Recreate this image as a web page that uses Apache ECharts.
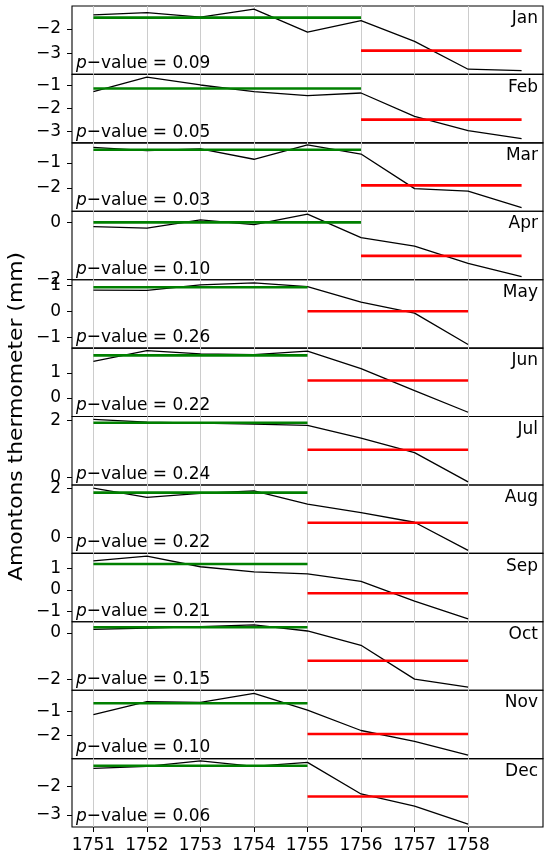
<!DOCTYPE html>
<html>
<head>
<meta charset="utf-8">
<script src="https://cdn.jsdelivr.net/npm/echarts@6/dist/echarts.min.js"></script>
<style>
  html, body { margin: 0; padding: 0; background: #fff; }
  #chart { width: 550px; height: 860px; }
</style>
</head>
<body>
<div id="chart"></div>
<script>
const months = ['Jan','Feb','Mar','Apr','May','Jun','Jul','Aug','Sep','Oct','Nov','Dec'];
const years = [1751,1752,1753,1754,1755,1756,1757,1758,1759];
const xTickYears = [1751,1752,1753,1754,1755,1756,1757,1758];

const janValues = [-1.44,-1.35,-1.53,-1.21,-2.13,-1.67,-2.51,-3.63,-3.69];
const febValues = [-1.26,-0.63,-0.97,-1.26,-1.43,-1.32,-2.34,-2.96,-3.31];
const marValues = [-0.37,-0.50,-0.43,-0.85,-0.27,-0.64,-2.03,-2.13,-2.79];
const aprValues = [-0.16,-0.21,0.08,-0.09,0.28,-0.54,-0.84,-1.44,-1.90];
const mayValues = [0.83,0.82,1.03,1.11,0.96,0.36,-0.06,-1.27];
const junValues = [1.45,1.88,1.75,1.72,1.86,1.16,0.29,-0.57];
const julValues = [2.04,1.94,1.91,1.87,1.83,1.38,0.87,-0.16];
const augValues = [2.00,1.63,1.79,1.89,1.35,1.01,0.62,-0.52];
const sepValues = [1.35,1.57,1.08,0.84,0.75,0.40,-0.51,-1.34];
const octValues = [0.16,0.22,0.28,0.36,0.09,-0.53,-2.00,-2.35];
const novValues = [-1.12,-0.58,-0.61,-0.23,-0.94,-1.79,-2.25,-2.82];
const decValues = [-1.36,-1.29,-1.10,-1.29,-1.15,-2.26,-2.69,-3.32];

const greenMeans = [-1.55,-1.12,-0.47,-0.01,0.94,1.69,1.92,1.82,1.21,0.25,-0.65,-1.27];
const redMeans   = [-2.88,-2.48,-1.90,-1.18,0.01,0.69,0.97,0.60,-0.15,-1.20,-1.94,-2.35];
const greenStart = [1751,1751,1751,1751,1751,1751,1751,1751,1751,1751,1751,1751];
const greenEnd   = [1756,1756,1756,1756,1755,1755,1755,1755,1755,1755,1755,1755];
const redStart   = [1756,1756,1756,1756,1755,1755,1755,1755,1755,1755,1755,1755];
const redEnd     = [1759,1759,1759,1759,1758,1758,1758,1758,1758,1758,1758,1758];

const pValues = ['0.09','0.05','0.03','0.10','0.26','0.22','0.24','0.22','0.21','0.15','0.10','0.06'];

const yTicks = [[-3,-2],[-3,-2,-1],[-2,-1],[-2,0],[-1,0,1],[0,1],[0,2],[0,2],[-1,0,1],[-2,0],[-2,-1],[-3,-2]];
const yMins = [-3.84,-3.49,-2.94,-2.01,-1.41,-0.74,-0.27,-0.64,-1.47,-2.48,-2.97,-3.42];
const yMaxs = [-1.08,-0.51,-0.19,0.38,1.23,1.98,2.14,2.13,1.70,0.49,-0.10,-1.02];

const monthValues = [janValues,febValues,marValues,aprValues,mayValues,junValues,julValues,augValues,sepValues,octValues,novValues,decValues];

const FONT = 'DejaVu Sans';
const top0 = 6, panelH = 68.42, gridLeft = 72, gridRight = 7;
const minusFmt = v => (v < 0 ? '\u2212' + Math.abs(v) : String(v));

const grids = [], xAxes = [], yAxes = [], series = [], graphics = [];
months.forEach((m, i) => {
  const top = top0 + i * panelH;
  const isLast = i === months.length - 1;
  grids.push({ left: gridLeft, right: gridRight, top: top, height: panelH, show: true,
    borderColor: '#000', borderWidth: 1.1, backgroundColor: 'transparent' });
  xAxes.push({ type: 'value', gridIndex: i, min: 1750.6, max: 1759.4,
    axisLine: { show: false }, splitLine: { show: false },
    axisTick: { show: isLast, length: 5, customValues: xTickYears, lineStyle: { color: '#000', width: 1 } },
    axisLabel: { show: isLast, customValues: xTickYears, formatter: v => String(v), margin: 10,
      fontFamily: FONT, fontSize: 17, color: '#000' } });
  yAxes.push({ type: 'value', gridIndex: i, min: yMins[i], max: yMaxs[i],
    axisLine: { show: false }, splitLine: { show: false },
    axisTick: { show: true, length: 5, customValues: yTicks[i], lineStyle: { color: '#000', width: 1 } },
    axisLabel: { show: true, customValues: yTicks[i], formatter: minusFmt, margin: 11,
      fontFamily: FONT, fontSize: 17, color: '#000' } });
  const vals = monthValues[i];
  series.push({ type: 'line', xAxisIndex: i, yAxisIndex: i, z: 2,
    data: vals.map((v, k) => [years[k], v]), symbol: 'none', silent: true,
    lineStyle: { color: '#000', width: 1.3 },
    markLine: { silent: true, z: 1, symbol: 'none', animation: false, label: { show: false },
      lineStyle: { color: '#cccccc', width: 1, type: 'solid' },
      data: xTickYears.map(y => ({ xAxis: y })) } });
  series.push({ type: 'line', xAxisIndex: i, yAxisIndex: i, z: 3, symbol: 'none', silent: true,
    data: [[greenStart[i], greenMeans[i]], [greenEnd[i], greenMeans[i]]],
    lineStyle: { color: '#008000', width: 2.6 } });
  series.push({ type: 'line', xAxisIndex: i, yAxisIndex: i, z: 3, symbol: 'none', silent: true,
    data: [[redStart[i], redMeans[i]], [redEnd[i], redMeans[i]]],
    lineStyle: { color: '#ff0000', width: 2.6 } });
  graphics.push({ type: 'text', x: 538, y: top + 12.5, scaleY: 1.06, silent: true, z: 10,
    style: { text: m, fontFamily: FONT, fontSize: 17, fill: '#000', align: 'right', verticalAlign: 'middle' } });
  graphics.push({ type: 'text', x: 76, y: top + 57.5, scaleY: 1.08, silent: true, z: 10,
    style: { text: '{i|p}{n|\u2212value = ' + pValues[i] + '}', fontFamily: FONT, fontSize: 17, fill: '#000',
      align: 'left', verticalAlign: 'middle',
      rich: { i: { fontFamily: FONT, fontSize: 17, fontStyle: 'italic', fill: '#000', color: '#000' },
              n: { fontFamily: FONT, fontSize: 17, fill: '#000', color: '#000' } } } });
});

graphics.push({
  type: 'text', x: 17, y: 416.5, rotation: Math.PI / 2, scaleX: 1.15, silent: true,
  style: { text: 'Amontons thermometer (mm)', fontFamily: FONT, fontSize: 19,
    fill: '#000', align: 'center', verticalAlign: 'middle' }
});

const chart = echarts.init(document.getElementById('chart'), null, { renderer: 'canvas' });
chart.setOption({
  animation: false,
  backgroundColor: '#fff',
  grid: grids,
  xAxis: xAxes,
  yAxis: yAxes,
  series: series,
  graphic: graphics
});
</script>
</body>
</html>
